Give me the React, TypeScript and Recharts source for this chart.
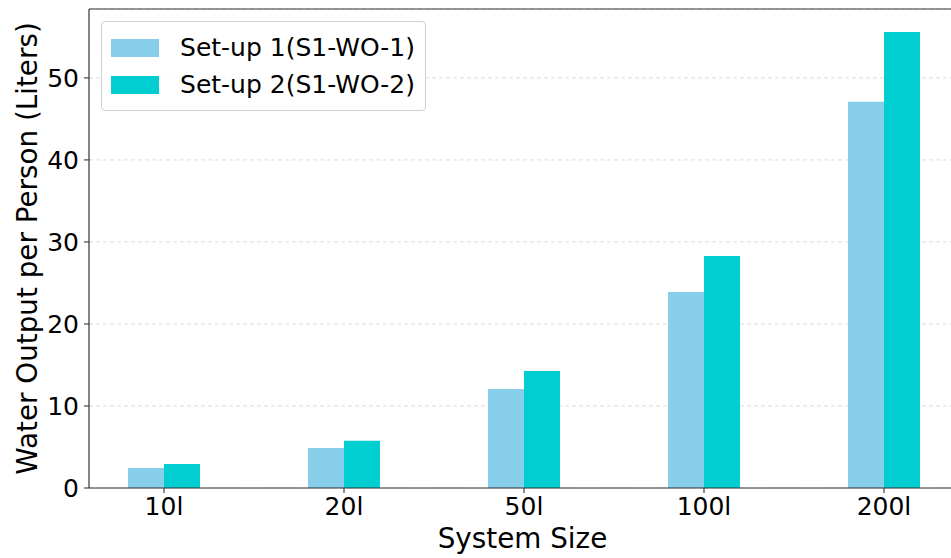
import React from "react";
import { BarChart, Bar, XAxis, YAxis, CartesianGrid, Legend, ReferenceLine, Label } from "recharts";

const categories = ["10l", "20l", "50l", "100l", "200l"];
const setup1 = [2.44, 4.88, 12.07, 23.9, 47.1];
const setup2 = [2.93, 5.77, 14.27, 28.3, 55.6];
const yTicks = [0, 10, 20, 30, 40, 50];
const Y_MAX = 58.4;
const seriesNames = ["Set-up 1(S1-WO-1)", "Set-up 2(S1-WO-2)"];
const colors = ["#87CEEB", "#00CED1"];

const data = categories.map((c, i) => ({ name: c, s1: setup1[i], s2: setup2[i] }));

const FONT = "'DejaVu Sans', sans-serif";

const renderLegend = () => (
  <div
    style={{
      border: "1px solid #d0d0d0",
      borderRadius: 4,
      background: "rgba(255,255,255,0.85)",
      padding: "7px 10px 7px 9px",
      fontFamily: FONT,
      fontSize: 25,
      color: "#000",
      boxSizing: "border-box",
      width: 325,
    }}
  >
    {seriesNames.map((n, i) => (
      <div key={n} style={{ display: "flex", alignItems: "center", height: 37 }}>
        <div style={{ width: 50, height: 18, background: colors[i], marginRight: 21 }} />
        <span style={{ lineHeight: "37px", whiteSpace: "nowrap" }}>{n}</span>
      </div>
    ))}
  </div>
);

export default function App() {
  return (
    <div style={{ position: "absolute", left: 0, top: 0, width: 951, height: 558, overflow: "hidden", background: "#fff" }}>
      <BarChart
        width={976}
        height={558}
        data={data}
        margin={{ top: 9, right: 2, bottom: 0, left: 0 }}
        barGap={0}
        barCategoryGap={54}
      >
        <CartesianGrid horizontal={true} vertical={false} stroke="#dcdcdc" strokeDasharray="4 3" />
        <XAxis
          dataKey="name"
          height={70}
          padding={{ left: -15, right: 0 }}
          tickSize={5}
          tickMargin={4}
          stroke="#333"
          tick={{ fill: "#000", fontSize: 25, fontFamily: FONT }}
          axisLine={{ stroke: "#333", strokeWidth: 1.2 }}
          tickLine={{ stroke: "#333", strokeWidth: 1.1 }}
        >
          <Label value="System Size" position="insideBottom" offset={10} dx={-9} style={{ fontSize: 27.8, fontFamily: FONT, fill: "#000" }} />
        </XAxis>
        <YAxis
          width={89}
          domain={[0, Y_MAX]}
          ticks={yTicks}
          allowDataOverflow={true}
          tickSize={5}
          tickMargin={5}
          tick={{ fill: "#000", fontSize: 25, fontFamily: FONT }}
          axisLine={{ stroke: "#333", strokeWidth: 1.2 }}
          tickLine={{ stroke: "#333", strokeWidth: 1.1 }}
        >
          <Label
            value="Water Output per Person (Liters)"
            angle={-90}
            position="center"
            dx={-17}
            style={{ fontSize: 27.8, fontFamily: FONT, fill: "#000", textAnchor: "middle" }}
          />
        </YAxis>
        <ReferenceLine y={Y_MAX} stroke="#333" strokeWidth={1.2} />
        <Legend
          layout="vertical"
          align="center"
          verticalAlign="middle"
          content={renderLegend}
          wrapperStyle={{ left: 101, top: 21, width: 325 }}
        />
        <Bar dataKey="s1" name={seriesNames[0]} fill={colors[0]} isAnimationActive={false} />
        <Bar dataKey="s2" name={seriesNames[1]} fill={colors[1]} isAnimationActive={false} />
      </BarChart>
    </div>
  );
}
